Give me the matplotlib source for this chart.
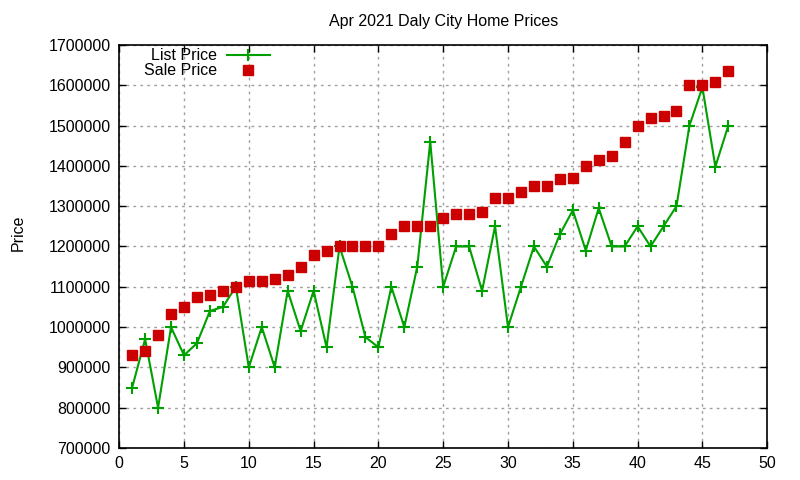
import matplotlib
matplotlib.use("Agg")
import matplotlib.pyplot as plt
from matplotlib.ticker import MultipleLocator, FuncFormatter

plt.rcParams["font.family"] = ["Liberation Sans", "DejaVu Sans"]

# data
listing = list(range(1, 48))
list_price = [850000, 970000, 800000, 1000000, 930000, 960000, 1040000, 1050000, 1100000, 900000,
              1000000, 900000, 1090000, 990000, 1090000, 950000, 1200000, 1100000, 975000, 950000,
              1100000, 1000000, 1150000, 1460000, 1100000, 1200000, 1200000, 1090000, 1250000, 1000000,
              1100000, 1200000, 1150000, 1230000, 1290000, 1190000, 1295000, 1200000, 1200000, 1250000,
              1200000, 1250000, 1300000, 1500000, 1595000, 1398000, 1500000]
sale_price = [930000, 940000, 980000, 1032000, 1050000, 1075000, 1080000, 1090000, 1100000, 1115000,
              1115000, 1120000, 1128000, 1150000, 1180000, 1190000, 1200000, 1200000, 1200000, 1200000,
              1230000, 1250000, 1250000, 1250000, 1270000, 1280000, 1280000, 1285000, 1320000, 1320000,
              1335000, 1350000, 1350000, 1368000, 1370000, 1400000, 1415000, 1425000, 1460000, 1500000,
              1518000, 1525000, 1535000, 1600000, 1600000, 1608000, 1635000]

fig = plt.figure(figsize=(8, 4.8), dpi=100)
ax = fig.add_axes([0.149, 0.0667, 0.81, 0.8396])

ax.plot(listing, list_price, color="#00a000", lw=1.5, marker="+", markersize=8,
        markeredgewidth=1.5, label="List Price", zorder=3)
ax.plot(listing, sale_price, ls="none", color="#cc0000", marker="s", markersize=7,
        label="Sale Price", zorder=4)

ax.set_xlim(0, 50)
ax.set_ylim(700000, 1700000)
ax.xaxis.set_major_locator(MultipleLocator(5))
ax.yaxis.set_major_locator(MultipleLocator(100000))
ax.yaxis.set_major_formatter(FuncFormatter(lambda v, p: "%d" % v))
ax.tick_params(direction="in", length=5, width=1, top=True, right=True,
               labelsize=11.5, colors="black", pad=6)
for s in ax.spines.values():
    s.set_linewidth(1.2)

ax.grid(True, color="#a0a0a0", ls=(0, (2, 3)), lw=1)
ax.set_axisbelow(True)

ax.set_title("Apr 2021 Daly City Home Prices", fontsize=11.5, pad=14)
fig.text(0.014, 0.515, "Price", rotation=90, fontsize=11.5, va="center", ha="left")

ax.legend(loc="upper left", bbox_to_anchor=(0.026, 1.012), markerfirst=False, frameon=False,
          fontsize=11.5, handlelength=2.7, handletextpad=0.6, labelspacing=0.0,
          borderaxespad=0.1)

fig.savefig("out.png", dpi=100)
